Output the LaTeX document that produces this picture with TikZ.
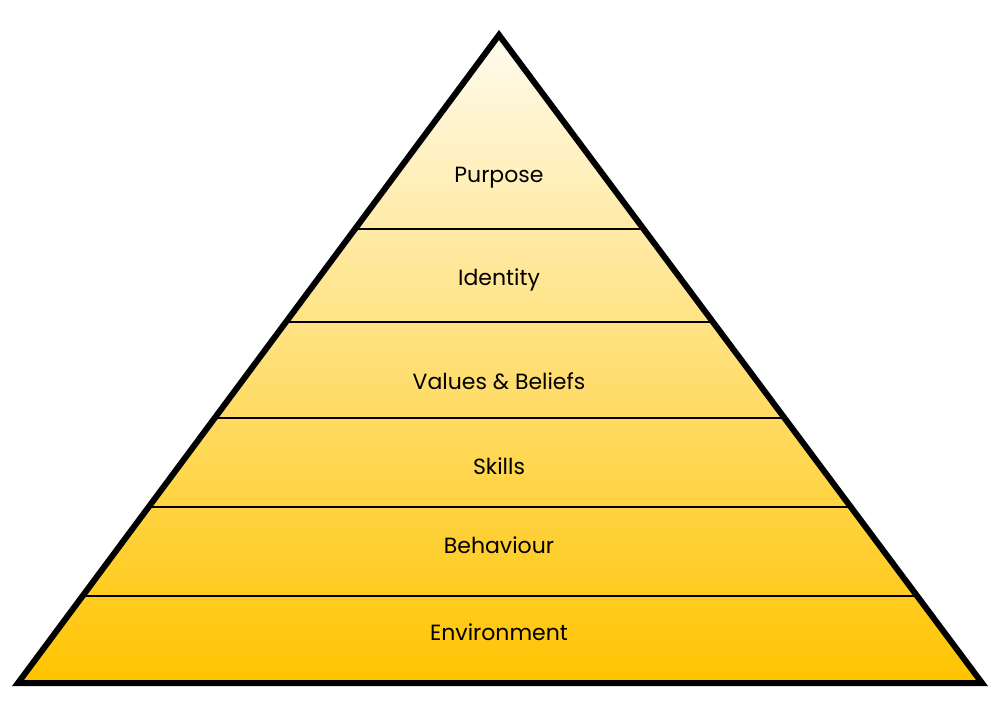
\documentclass[tikz,border=0pt]{standalone}
\usepackage{fontspec}
\setmainfont{Poppins}
\usetikzlibrary{calc}
\definecolor{topc}{HTML}{FFFBEE}
\definecolor{botc}{HTML}{FFC400}
\tikzset{lbl/.style={font=\fontsize{22}{26}\selectfont, anchor=center}, sep/.style={line width=1.4pt}}
\begin{document}
\begin{tikzpicture}[x=1pt,y=-1pt]
\useasboundingbox (0,0) rectangle (1004,706);
\coordinate (apex) at (499,35);
\coordinate (bl) at (18,683);
\coordinate (br) at (982,683);
\begin{scope}
\clip (apex) -- (br) -- (bl) -- cycle;
\shade[top color=topc, bottom color=botc] (0,35) rectangle (1004,683);
\end{scope}
\foreach \yy in {229,322,418,507,596}{
  \pgfmathsetmacro\t{(\yy-35)/648}
  \draw[sep] ($(apex)!\t!(bl)$) -- ($(apex)!\t!(br)$);
}
\draw[line width=6pt, line join=miter] (apex) -- (br) -- (bl) -- cycle;
\node[lbl] (p) at (499,178) {Purpose};
\node[lbl] (i) at (499,280) {Identity};
\node[lbl] (v) at (499,381) {Values \& Beliefs};
\node[lbl] (s) at (499,466) {Skills};
\node[lbl] (b) at (499,545) {Behaviour};
\node[lbl] (e) at (499,632) {Environment};
\end{tikzpicture}
\end{document}
